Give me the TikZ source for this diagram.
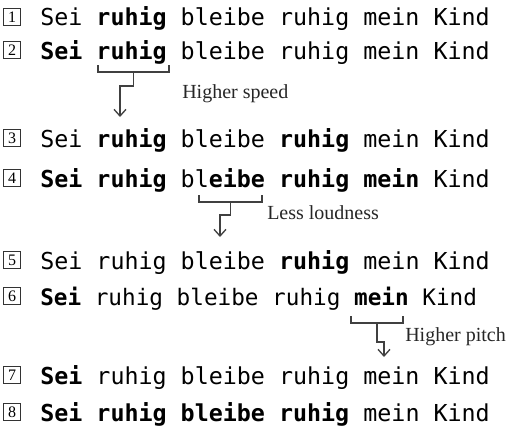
\documentclass[tikz,border=0pt]{standalone}
\usepackage{fontspec}
\setmainfont{Liberation Serif}
\newfontfamily\monof{DejaVu Sans Mono}
\usetikzlibrary{arrows.meta,calc}
\begin{document}
\begin{tikzpicture}[x=0.75pt,y=-0.75pt,
  txt/.style={anchor=base west, inner sep=0pt, font=\monof\fontsize{17.5}{20}\selectfont},
  txtn/.style={anchor=base west, inner sep=0pt, font=\monof\fontsize{17}{20}\selectfont},
  numbox/.style={draw, line width=0.6pt, draw=black!80, minimum size=13pt, inner sep=0pt, font=\fontsize{12}{13}\selectfont},
  lbl/.style={anchor=west, inner sep=0pt, font=\fontsize{15}{17}\selectfont, text=black!85},
  brk/.style={line width=1pt, draw=black!75},
  arr/.style={brk, -{Straight Barb[length=5pt,width=9pt]}}]
\useasboundingbox (0,0) rectangle (507,432);

% numbered boxes
\node[numbox] (n1) at (12,17) {1};
\node[numbox] (n2) at (12,50) {2};
\node[numbox] (n3) at (12,138) {3};
\node[numbox] (n4) at (12,178) {4};
\node[numbox] (n5) at (12,260) {5};
\node[numbox] (n6) at (12,296) {6};
\node[numbox] (n7) at (12,375) {7};
\node[numbox] (n8) at (12,412) {8};

% sentences
\node[txt] (t1) at (40,26) {Sei \textbf{ruhig} bleibe ruhig mein Kind};
\node[txt] (t2) at (40,59) {\textbf{Sei} \textbf{ruhig} bleibe ruhig mein Kind};
\node[txt] (t3) at (40,147) {Sei \textbf{ruhig} bleibe \textbf{ruhig} mein Kind};
\node[txt] (t4) at (40,187) {\textbf{Sei} \textbf{ruhig} bl\textbf{eibe} \textbf{ruhig} \textbf{mein} Kind};
\node[txt] (t5) at (40,269) {Sei ruhig bleibe \textbf{ruhig} mein Kind};
\node[txtn] (t6) at (40,305) {\textbf{Sei} ruhig bleibe ruhig \textbf{mein} Kind};
\node[txt] (t7) at (40,384) {\textbf{Sei} ruhig bleibe ruhig mein Kind};
\node[txt] (t8) at (40,421) {\textbf{Sei} \textbf{ruhig} \textbf{bleibe} \textbf{ruhig} mein Kind};

% bracket 1: Higher speed
\coordinate (b1l) at (98,65);
\coordinate (b1r) at (169,65);
\coordinate (b1m) at (133.5,72);
\coordinate (a1) at (120,117);
\draw[brk] (b1l) -- ++(0,7) -- ($(b1r)+(0,7)$) -- (b1r);
\draw[arr] (b1m) -- ++(0,14) -| (a1);
\node[lbl] (l1) at (182,94) {Higher speed};

% bracket 2: Less loudness
\coordinate (b2l) at (199,195);
\coordinate (b2r) at (262,195);
\coordinate (b2m) at (230.5,202);
\coordinate (a2) at (220,237);
\draw[brk] (b2l) -- ++(0,7) -- ($(b2r)+(0,7)$) -- (b2r);
\draw[arr] (b2m) -- ++(0,13) -| (a2);
\node[lbl] (l2) at (267,213) {Less loudness};

% bracket 3: Higher pitch
\coordinate (b3l) at (351,316);
\coordinate (b3r) at (403,316);
\coordinate (b3m) at (377,323);
\coordinate (a3) at (384,357);
\draw[brk] (b3l) -- ++(0,7) -- ($(b3r)+(0,7)$) -- (b3r);
\draw[arr] (b3m) -- ++(0,19) -| (a3);
\node[lbl] (l3) at (405,337) {Higher pitch};
\end{tikzpicture}
\end{document}
